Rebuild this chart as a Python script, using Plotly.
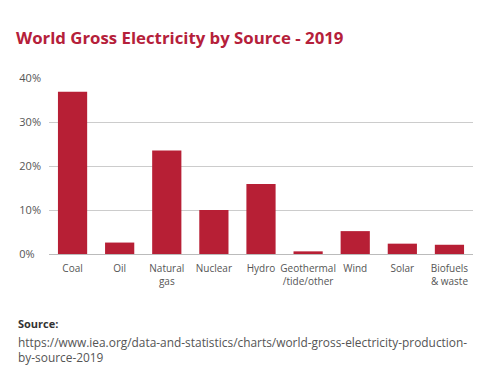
import plotly.graph_objects as go

categories = ["Coal", "Oil", "Natural<br>gas", "Nuclear", "Hydro",
              "Geothermal<br>/tide/other", "Wind", "Solar", "Biofuels<br>& waste"]
shares = [36.9, 2.6, 23.5, 10.0, 15.9, 0.6, 5.2, 2.35, 2.1]
y_ticks = [0, 10, 20, 30, 40]
y_tick_labels = ["0%\u2007", "10%", "20%", "30%", "40%"]

BAR = "#B71F35"
FONT = "Open Sans"

fig = go.Figure(go.Bar(x=categories, y=shares, marker_color=BAR,
                       marker_line_width=0, hoverinfo="x+y"))

fig.update_layout(
    width=500, height=373,
    margin=dict(l=49, r=27, t=78, b=119, autoexpand=False),
    paper_bgcolor="white", plot_bgcolor="white",
    bargap=0.38,
    showlegend=False,
    font=dict(family=FONT, size=11, color="#555555"),
    title=dict(text="<b>World Gross Electricity by Source - 2019</b>",
               x=16/500, xanchor="left", xref="container",
               y=1 - 38.5/373, yanchor="middle", yref="container",
               font=dict(family=FONT, size=16.8, color="#B5203A")),
)
fig.update_xaxes(showgrid=False, showline=False, ticks="", tickangle=0, automargin=False,
                 ticklabelstandoff=7, tickfont=dict(size=10, color="#555555"))
fig.update_yaxes(range=[0, 40], tickvals=y_ticks, ticktext=y_tick_labels, automargin=False,
                 showgrid=True, gridcolor="#CCCCCC", gridwidth=1,
                 zeroline=True, zerolinecolor="#BBBBBB", zerolinewidth=1,
                 showline=False, ticks="", ticklabelstandoff=7,
                 tickfont=dict(size=11, color="#555555"))

fig.add_annotation(text="<b>Source:</b>", xref="paper", yref="paper",
                   x=-33/424, y=-(323 - 254)/176, xanchor="left", yanchor="middle",
                   showarrow=False, font=dict(family=FONT, size=11, color="#333333"))
fig.add_annotation(text="https://www.iea.org/data-and-statistics/charts/world-gross-electricity-production-<br>by-source-2019",
                   xref="paper", yref="paper", align="left",
                   x=-33/424, y=-(349.5 - 254)/176, xanchor="left", yanchor="middle",
                   showarrow=False, font=dict(family=FONT, size=11.9, color="#555555"))

fig.write_html("out.html", config={"displayModeBar": False},
               post_script="document.body.style.margin='0';document.body.style.overflow='hidden';")
